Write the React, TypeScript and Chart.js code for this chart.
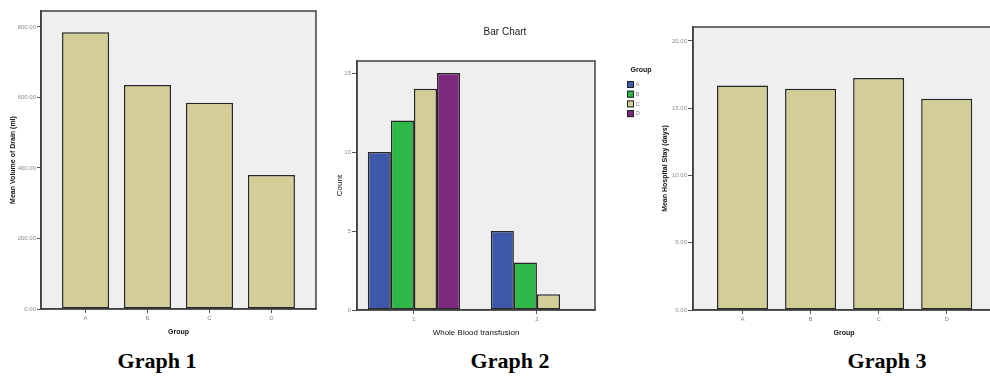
import React, { useEffect, useRef } from 'react';
import { Chart, registerables } from 'chart.js';

Chart.register(...registerables);

// ---------- data ----------
const groups = ['A', 'B', 'C', 'D'];

const drainMeans = [785, 635, 585, 380];
const drainTicks = [0, 200, 400, 600, 800];
const drainTickLabels = ['0.00', '200.00', '400.00', '600.00', '800.00'];

const transfusionCats = ['1', '2'];
const countA = [10, 5];
const countB = [12, 3];
const countC = [14, 1];
const countD = [15, 0];
const countTicks = [0, 5, 10, 15];
const countTickLabels = ['0', '5', '10', '15'];

const stayMeans = [16.7, 16.45, 17.25, 15.7];
const stayTicks = [0, 5, 10, 15, 20];
const stayTickLabels = ['0.00', '5.00', '10.00', '15.00', '20.00'];

const graphTitles = ['Graph 1', 'Graph 2', 'Graph 3'];

// ---------- styles ----------
const SANS = '"Liberation Sans", Arial, sans-serif';
const BEIGE = '#D3CE97';
const BLUE = '#3E58AC';
const GREEN = '#2EB848';
const PURPLE = '#7C287D';
const BAR_BORDER = '#262626';
const PLOT_BG = '#efefef';
const FRAME = '#404040';
const TICK_COLOR = '#8c8c8c';
const tickFont = { family: SANS, size: 6 };

const framePlugin = {
  id: 'plotFrame',
  beforeDraw(chart: any) {
    const { ctx, chartArea: a } = chart;
    ctx.save();
    ctx.fillStyle = PLOT_BG;
    ctx.fillRect(a.left, a.top, a.right - a.left, a.bottom - a.top);
    ctx.restore();
  },
  afterDatasetsDraw(chart: any) {
    const { ctx, chartArea: a } = chart;
    ctx.save();
    ctx.strokeStyle = FRAME;
    ctx.lineWidth = 1.5;
    ctx.strokeRect(a.left, a.top, a.right - a.left, a.bottom - a.top);
    ctx.restore();
  },
};

const groupLegend = {
  id: 'groupLegend',
  afterDraw(chart: any) {
    const { ctx, chartArea: a } = chart;
    const x0 = a.right + 32;
    ctx.save();
    ctx.font = `bold 7px ${SANS}`;
    ctx.fillStyle = '#111';
    ctx.textAlign = 'center';
    ctx.textBaseline = 'middle';
    ctx.fillText('Group', x0 + 14, a.top + 9);
    chart.data.datasets.forEach((ds: any, i: number) => {
      const y = a.top + 20 + i * 9.7;
      ctx.fillStyle = ds.backgroundColor;
      ctx.fillRect(x0, y, 7, 7);
      ctx.strokeStyle = '#222';
      ctx.lineWidth = 1;
      ctx.strokeRect(x0 + 0.5, y + 0.5, 6, 6);
      ctx.fillStyle = TICK_COLOR;
      ctx.font = `6px ${SANS}`;
      ctx.textAlign = 'left';
      ctx.fillText(ds.label, x0 + 8.5, y + 3.5);
    });
    ctx.restore();
  },
};

function catAxis(labels: string[], min: number, max: number, height: number, title: string, titleFont: any, titlePadBottom: number) {
  return {
    type: 'linear',
    min,
    max,
    offset: false,
    afterBuildTicks: (s: any) => {
      s.ticks = labels.map((_, i) => ({ value: i }));
    },
    afterFit: (s: any) => {
      s.height = height;
    },
    grid: { display: true, drawOnChartArea: false, drawTicks: true, tickLength: 4, color: '#555', lineWidth: 1, offset: false },
    border: { display: true, color: FRAME, width: 1.5 },
    ticks: {
      callback: (v: any) => labels[v] ?? '',
      font: tickFont,
      color: TICK_COLOR,
      padding: 2,
      autoSkip: false,
      maxRotation: 0,
    },
    title: { display: true, text: title, font: titleFont, color: '#111', padding: { top: 0, bottom: titlePadBottom } },
  };
}

function valueAxis(tickVals: number[], tickLabels: string[], max: number, width: number, tickLen: number, title: string, titleFont: any, titlePadTop: number) {
  return {
    type: 'linear',
    min: 0,
    max,
    afterBuildTicks: (s: any) => {
      s.ticks = tickVals.map((v) => ({ value: v }));
    },
    afterFit: (s: any) => {
      s.width = width;
    },
    grid: { display: true, drawOnChartArea: false, drawTicks: true, tickLength: tickLen, color: '#555', lineWidth: 1 },
    border: { display: true, color: FRAME, width: 1.5 },
    ticks: {
      callback: (_v: any, i: number) => tickLabels[i],
      font: tickFont,
      color: TICK_COLOR,
      padding: 1,
    },
    title: { display: true, text: title, font: titleFont, color: '#111', padding: { top: titlePadTop, bottom: 0 } },
  };
}

const toPoints = (vals: number[]) => vals.map((v, i) => ({ x: i, y: v }));

const barStyle = {
  borderColor: BAR_BORDER,
  borderWidth: 1.5,
  borderSkipped: false,
};

function graph1Config(): any {
  return {
    type: 'bar',
    data: {
      datasets: [
        { label: 'Mean Volume of Drain (ml)', data: toPoints(drainMeans), backgroundColor: BEIGE, ...barStyle, categoryPercentage: 1, barPercentage: 0.76 },
      ],
    },
    options: {
      responsive: false,
      animation: false,
      events: [],
      layout: { padding: { top: 11, right: 14, left: 0, bottom: 0 } },
      plugins: { legend: { display: false }, tooltip: { enabled: false } },
      scales: {
        x: catAxis(groups, -0.72, 3.72, 36, 'Group', { family: SANS, size: 7, weight: 'bold' }, 9),
        y: valueAxis(drainTicks, drainTickLabels, 845, 41, 4, 'Mean Volume of Drain (ml)', { family: SANS, size: 7, weight: 'bold' }, 9),
      },
    },
    plugins: [framePlugin],
  };
}

function graph2Config(): any {
  const common = { ...barStyle, categoryPercentage: 0.75, barPercentage: 1 };
  return {
    type: 'bar',
    data: {
      datasets: [
        { label: 'A', data: toPoints(countA), backgroundColor: BLUE, ...common },
        { label: 'B', data: toPoints(countB), backgroundColor: GREEN, ...common },
        { label: 'C', data: toPoints(countC), backgroundColor: BEIGE, ...common },
        { label: 'D', data: toPoints(countD), backgroundColor: PURPLE, ...common },
      ],
    },
    options: {
      responsive: false,
      animation: false,
      events: [],
      layout: { padding: 0 },
      plugins: {
        legend: { display: false },
        tooltip: { enabled: false },
        title: {
          display: true,
          text: 'Bar Chart',
          font: { family: SANS, size: 10, weight: 'normal' },
          color: '#222',
          padding: { top: 26, bottom: 23 },
        },
      },
      scales: {
        x: catAxis(transfusionCats, -0.463, 1.472, 35, 'Whole Blood transfusion', { family: SANS, size: 8 }, 7),
        y: valueAxis(countTicks, countTickLabels, 15.76, 37, 5, 'Count', { family: SANS, size: 8 }, 15),
        legendSpace: {
          type: 'linear',
          axis: 'y',
          position: 'right',
          display: true,
          grid: { display: false },
          border: { display: false },
          ticks: { display: false },
          afterFit: (s: any) => {
            s.width = 95;
          },
        },
      },
    },
    plugins: [framePlugin, groupLegend],
  };
}

function graph3Config(): any {
  return {
    type: 'bar',
    data: {
      datasets: [
        { label: 'Mean Hospital Stay (days)', data: toPoints(stayMeans), backgroundColor: BEIGE, ...barStyle, categoryPercentage: 1, barPercentage: 0.75 },
      ],
    },
    options: {
      responsive: false,
      animation: false,
      events: [],
      layout: { padding: { top: 27, right: 0, left: 0, bottom: 0 } },
      plugins: { legend: { display: false }, tooltip: { enabled: false } },
      scales: {
        x: catAxis(groups, -0.728, 3.71, 35, 'Group', { family: SANS, size: 7, weight: 'bold' }, 8),
        y: valueAxis(stayTicks, stayTickLabels, 21.04, 43, 5, 'Mean Hospital Stay (days)', { family: SANS, size: 7, weight: 'bold' }, 11),
      },
    },
    plugins: [framePlugin],
  };
}

function ChartCanvas({ makeConfig, left, width, height }: { makeConfig: () => any; left: number; width: number; height: number }) {
  const ref = useRef<HTMLCanvasElement | null>(null);
  useEffect(() => {
    const chart = new Chart(ref.current as HTMLCanvasElement, makeConfig());
    return () => chart.destroy();
  }, []);
  return (
    <canvas
      ref={ref}
      width={width}
      height={height}
      style={{ position: 'absolute', left, top: 0, width, height }}
    />
  );
}

const titleCenters = [157, 510, 887];

export default function App() {
  return (
    <div
      style={{
        position: 'fixed',
        left: 0,
        top: 0,
        width: 990,
        height: 377,
        overflow: 'hidden',
        background: '#fff',
      }}
    >
      <ChartCanvas makeConfig={graph1Config} left={0} width={330} height={345} />
      <ChartCanvas makeConfig={graph2Config} left={320} width={370} height={345} />
      <ChartCanvas makeConfig={graph3Config} left={650} width={345} height={345} />
      {graphTitles.map((t, i) => (
        <div
          key={t}
          style={{
            position: 'absolute',
            left: titleCenters[i] - 70,
            width: 140,
            top: 350,
            height: 22,
            lineHeight: '22px',
            textAlign: 'center',
            fontFamily: '"Liberation Serif", "Times New Roman", serif',
            fontWeight: 'bold',
            fontSize: 22,
            color: '#000',
          }}
        >
          {t}
        </div>
      ))}
    </div>
  );
}
